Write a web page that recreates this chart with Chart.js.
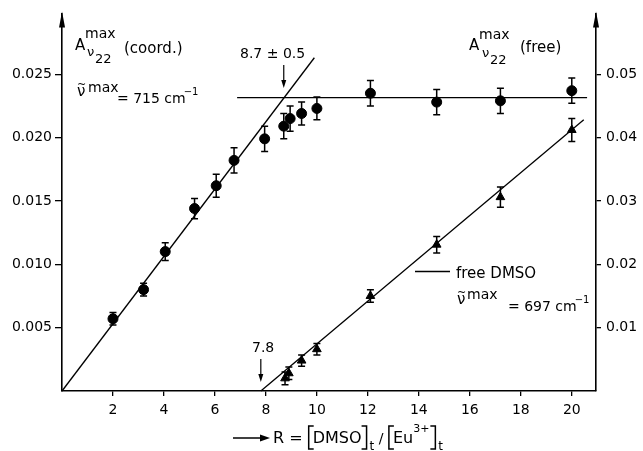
<!DOCTYPE html>
<html>
<head>
<meta charset="utf-8">
<script src="https://cdn.jsdelivr.net/npm/chart.js@4/dist/chart.umd.min.js"></script>
<style>
  html, body { margin: 0; padding: 0; background: #fff; }
  canvas { display: block; }
</style>
</head>
<body>
<canvas id="chart" width="643" height="451"></canvas>
<script>
// tick labels
const xTicks = [2, 4, 6, 8, 10, 12, 14, 16, 18, 20];
const leftTicks = [0.005, 0.010, 0.015, 0.020, 0.025];
const rightTicks = [0.01, 0.02, 0.03, 0.04, 0.05];

// coordinated DMSO (circles, left axis)
const coordR = [2.0, 3.2, 4.05, 5.2, 6.05, 6.75, 7.95, 8.7, 8.95, 9.4, 10.0, 12.1, 14.7, 17.2, 20.0];
const coordA = [0.0057, 0.0080, 0.0110, 0.0144, 0.0162, 0.0182, 0.0199, 0.0209, 0.0215, 0.0219, 0.0223, 0.0235, 0.0228, 0.0229, 0.0237];
const coordErr = [0.0005, 0.0005, 0.0007, 0.0008, 0.0009, 0.0010, 0.0010, 0.0010, 0.0010, 0.0009, 0.0009, 0.0010, 0.0010, 0.0010, 0.0010];

// free DMSO (triangles, right axis)
const freeR = [8.75, 8.9, 9.4, 10.0, 12.1, 14.7, 17.2, 20.0];
const freeA = [0.0020, 0.0028, 0.0048, 0.0066, 0.0150, 0.0231, 0.0306, 0.0412];
const freeErr = [0.0010, 0.0010, 0.0009, 0.0009, 0.0010, 0.0013, 0.0016, 0.0018];

// fitted lines
const coordFitR = [0, 9.9];
const coordFitA = [0, 0.0263];
const plateauR = [6.87, 20.6];
const plateauA = [0.02315, 0.02315];
const freeFitR = [7.8, 20.47];
const freeFitA = [0, 0.0428];

const FONT = "'DejaVu Sans', sans-serif";
const pts = (xs, ys) => xs.map((x, i) => ({ x: x, y: ys[i] }));

const errorBars = {
  id: "errorBars",
  beforeDatasetsDraw(chart) {
    const ctx = chart.ctx;
    const xs = chart.scales.x;
    ctx.save();
    ctx.strokeStyle = "#000";
    ctx.lineWidth = 1.5;
    chart.data.datasets.forEach(ds => {
      if (!ds.err) return;
      const ys = chart.scales[ds.yAxisID];
      ds.data.forEach((p, i) => {
        const px = xs.getPixelForValue(p.x);
        const top = ys.getPixelForValue(p.y + ds.err[i]);
        const bot = ys.getPixelForValue(p.y - ds.err[i]);
        ctx.beginPath();
        ctx.moveTo(px, top); ctx.lineTo(px, bot);
        ctx.moveTo(px - 3.5, top); ctx.lineTo(px + 3.5, top);
        ctx.moveTo(px - 3.5, bot); ctx.lineTo(px + 3.5, bot);
        ctx.stroke();
      });
    });
    ctx.restore();
  }
};

function txt(ctx, s, x, y, size) {
  ctx.font = size + "px " + FONT;
  ctx.fillText(s, x, y);
  return x + ctx.measureText(s).width;
}

function arrowDown(ctx, x, y0, y1) {
  ctx.beginPath();
  ctx.moveTo(x, y0); ctx.lineTo(x, y1 - 6);
  ctx.stroke();
  ctx.beginPath();
  ctx.moveTo(x - 2.5, y1 - 8); ctx.lineTo(x + 2.5, y1 - 8); ctx.lineTo(x, y1);
  ctx.closePath(); ctx.fill();
}

function bracket(ctx, x, top, bot, dir) {
  ctx.beginPath();
  ctx.moveTo(x + dir * 5, top); ctx.lineTo(x, top);
  ctx.lineTo(x, bot); ctx.lineTo(x + dir * 5, bot);
  ctx.stroke();
}

const annotations = {
  id: "annotations",
  afterDraw(chart) {
    const ctx = chart.ctx;
    const a = chart.chartArea;
    const xs = chart.scales.x;
    ctx.save();
    ctx.fillStyle = "#000";
    ctx.strokeStyle = "#000";
    ctx.textBaseline = "alphabetic";

    // axis arrowheads
    [a.left, a.right].forEach(x => {
      ctx.beginPath();
      ctx.moveTo(x, a.top - 2); ctx.lineTo(x - 3, a.top + 14); ctx.lineTo(x + 3, a.top + 14);
      ctx.closePath(); ctx.fill();
    });

    // left label
    txt(ctx, "A", 75, 50, 15);
    txt(ctx, "max", 85, 38, 14);
    txt(ctx, "ν", 87, 56, 13);
    txt(ctx, "22", 95, 63, 13);
    txt(ctx, "(coord.)", 124, 53, 15);
    txt(ctx, "ν", 77, 96, 15);
    txt(ctx, "~", 77, 88, 11);
    txt(ctx, "max", 88, 92, 14);
    let x = txt(ctx, "= 715 cm", 117, 103, 14);
    txt(ctx, "−1", x - 2, 95, 10);

    // right label
    txt(ctx, "A", 469, 50, 15);
    txt(ctx, "max", 479, 39, 14);
    txt(ctx, "ν", 482, 57, 13);
    txt(ctx, "22", 490, 64, 13);
    txt(ctx, "(free)", 520, 52, 15);

    // break points
    ctx.lineWidth = 1.2;
    txt(ctx, "8.7 ± 0.5", 240, 58, 14);
    arrowDown(ctx, xs.getPixelForValue(8.7), 65, 88);
    txt(ctx, "7.8", 252, 352, 14);
    arrowDown(ctx, xs.getPixelForValue(7.8), 359, 382);

    // free DMSO label
    ctx.lineWidth = 1.3;
    ctx.beginPath(); ctx.moveTo(415, 271.5); ctx.lineTo(450, 271.5); ctx.stroke();
    txt(ctx, "free DMSO", 456, 278, 15);
    txt(ctx, "ν", 457, 304, 15);
    txt(ctx, "~", 457, 296, 11);
    txt(ctx, "max", 467, 299, 14);
    x = txt(ctx, "= 697 cm", 508, 311, 14);
    txt(ctx, "−1", x - 2, 303, 10);

    // x axis title
    ctx.lineWidth = 1.5;
    ctx.beginPath(); ctx.moveTo(233, 438); ctx.lineTo(262, 438); ctx.stroke();
    ctx.beginPath(); ctx.moveTo(270, 438); ctx.lineTo(260, 434.5); ctx.lineTo(260, 441.5); ctx.closePath(); ctx.fill();
    x = txt(ctx, "R = ", 273, 443, 16);
    bracket(ctx, x + 1, 426, 449, 1);
    x = txt(ctx, "DMSO", x + 5, 443, 16);
    bracket(ctx, x + 5, 426, 449, -1);
    x = txt(ctx, "t", x + 8, 450, 12);
    x = txt(ctx, " / ", x, 443, 14);
    bracket(ctx, x + 1, 426, 449, 1);
    x = txt(ctx, "Eu", x + 5, 443, 16);
    x = txt(ctx, "3+", x, 432, 11);
    bracket(ctx, x + 6, 426, 449, -1);
    txt(ctx, "t", x + 9, 450, 12);

    ctx.restore();
  }
};

function fixTicks(list) {
  return s => { s.ticks = list.map(v => ({ value: v })); };
}

new Chart(document.getElementById("chart"), {
  type: "scatter",
  data: {
    datasets: [
      {
        data: pts(coordR, coordA), err: coordErr, yAxisID: "y",
        pointStyle: "circle", pointRadius: 5, backgroundColor: "#000", borderColor: "#000"
      },
      {
        data: pts(freeR, freeA), err: freeErr, yAxisID: "y2",
        pointStyle: "triangle", pointRadius: 5, backgroundColor: "#000", borderColor: "#000"
      },
      {
        data: pts(coordFitR, coordFitA), yAxisID: "y", showLine: true,
        pointRadius: 0, borderColor: "#000", borderWidth: 1.3
      },
      {
        data: pts(plateauR, plateauA), yAxisID: "y", showLine: true,
        pointRadius: 0, borderColor: "#000", borderWidth: 1.4
      },
      {
        data: pts(freeFitR, freeFitA), yAxisID: "y2", showLine: true,
        pointRadius: 0, borderColor: "#000", borderWidth: 1.3
      }
    ]
  },
  options: {
    responsive: false,
    animation: false,
    clip: false,
    layout: { padding: { top: 12, left: 0, right: 0, bottom: 0 } },
    plugins: { legend: { display: false }, tooltip: { enabled: false } },
    scales: {
      x: {
        type: "linear", position: "bottom", min: 0, max: 20.95,
        afterBuildTicks: fixTicks(xTicks),
        afterFit: s => { s.height = 60; },
        grid: { drawOnChartArea: false, color: "#000", tickLength: 5, lineWidth: 1.3 },
        border: { color: "#000", width: 1.6 },
        ticks: { color: "#000", font: { family: FONT, size: 14 }, padding: 6, autoSkip: false, maxRotation: 0 }
      },
      y: {
        type: "linear", position: "left", min: 0, max: 0.0298,
        afterBuildTicks: fixTicks(leftTicks),
        afterFit: s => { s.width = 62; },
        grid: { drawOnChartArea: false, color: "#000", tickLength: 7, lineWidth: 1.3 },
        border: { color: "#000", width: 1.6 },
        ticks: { color: "#000", font: { family: FONT, size: 14 }, padding: 3, callback: v => v.toFixed(3) }
      },
      y2: {
        type: "linear", position: "right", min: 0, max: 0.0596,
        afterBuildTicks: fixTicks(rightTicks),
        afterFit: s => { s.width = 47; },
        grid: { drawOnChartArea: false, color: "#000", tickLength: 5, lineWidth: 1.3 },
        border: { color: "#000", width: 1.6 },
        ticks: { color: "#000", font: { family: FONT, size: 14 }, padding: 5, callback: v => v.toFixed(2) }
      }
    }
  },
  plugins: [errorBars, annotations]
});
</script>
</body>
</html>
